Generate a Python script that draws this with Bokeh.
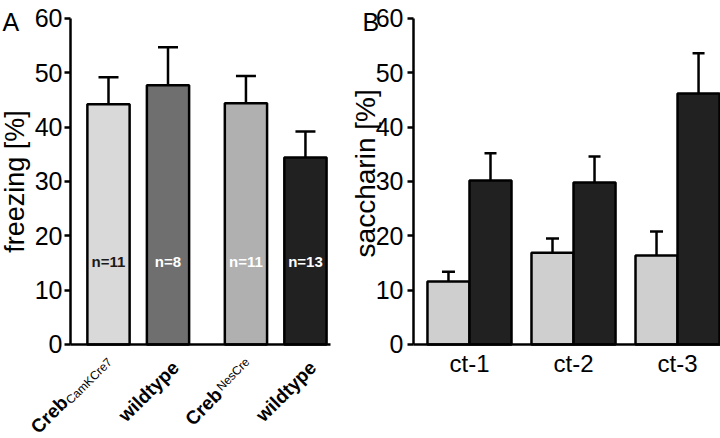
import math
from bokeh.plotting import figure
from bokeh.models import (Range1d, FixedTicker, ColumnDataSource, Whisker, TeeHead, Label)
from bokeh.core.properties import value
from bokeh.layouts import row
from bokeh.embed import file_html
from bokeh.resources import INLINE

# ---------------- data ----------------
# Panel A
a_names = ["Creb", "wildtype", "Creb", "wildtype"]
a_supers = ["CamKCre7", "", "NesCre", ""]
a_freezing = [44.2, 47.7, 44.4, 34.4]
a_sem = [5.0, 7.0, 5.0, 4.8]
a_n = ["n=11", "n=8", "n=11", "n=13"]
# Panel B
b_categories = ["ct-1", "ct-2", "ct-3"]
b_light = [11.6, 16.9, 16.4]
b_light_sem = [1.8, 2.6, 4.4]
b_dark = [30.2, 29.8, 46.2]
b_dark_sem = [5.0, 4.8, 7.4]
y_ticks = [0, 10, 20, 30, 40, 50, 60]

# ---------------- style ----------------
FONT = "Liberation Sans"
a_colors = ["#d9d9d9", "#6f6f6f", "#b0b0b0", "#212121"]
a_n_colors = ["#1a1a1a", "white", "white", "white"]
LIGHT = "#cfcfcf"
DARK = "#212121"
LW = 2.5
GROUP_GAP = 0.31
N_LABEL_Y = 15.3
H = 438
PX_X_A = 59.5      # px per x unit (panel A)
PX_Y = 5.4333      # px per y unit
LETTER_Y = 59.3    # baseline of panel letters


def make_fig(width, xr, yr):
    p = figure(width=width, height=H, output_backend="svg", toolbar_location=None,
               x_range=xr, y_range=yr, min_border=0,
               min_border_left=0, min_border_right=0, min_border_top=0, min_border_bottom=0)
    p.title.visible = False
    p.outline_line_color = None
    p.xgrid.visible = False
    p.ygrid.visible = False
    return p


def style_axes(p, ax_x, x_end, label_standoff):
    p.yaxis.fixed_location = ax_x
    p.yaxis.bounds = (0, 60)
    p.xaxis.fixed_location = 0
    p.xaxis.bounds = (ax_x, x_end)
    p.yaxis.ticker = FixedTicker(ticks=y_ticks)
    p.yaxis.major_tick_out = 6
    p.yaxis.major_tick_in = 0
    p.yaxis.major_label_standoff = label_standoff
    p.yaxis.major_label_text_font = FONT
    p.yaxis.major_label_text_font_size = "25px"
    p.yaxis.major_label_text_color = "black"
    for ax in (p.xaxis, p.yaxis):
        ax.axis_line_width = LW
        ax.axis_line_color = "black"
        ax.major_tick_line_width = LW
        ax.major_tick_line_color = "black"
        ax.minor_tick_line_color = None


# ---------------- Panel A ----------------
pa = make_fig(340, Range1d(-1.815, 3.899), Range1d(-17.3, 63.31))
style_axes(pa, -0.639, 3.73, 2)
pa.xaxis.ticker = FixedTicker(ticks=[])
pa.xaxis.major_tick_out = 0
pa.xaxis.major_tick_in = 0

xa = [i + GROUP_GAP * (i // 2) for i in range(len(a_freezing))]
src_a = ColumnDataSource(dict(x=xa, top=a_freezing,
                              upper=[v + e for v, e in zip(a_freezing, a_sem)],
                              color=a_colors, n=a_n, ncol=a_n_colors,
                              ny=[N_LABEL_Y] * len(xa)))
pa.vbar(x="x", top="top", bottom=0, width=0.71, source=src_a,
        fill_color="color", line_color="black", line_width=LW)
pa.add_layout(Whisker(source=src_a, base="x", upper="upper", lower="top", dimension="height",
                      line_width=LW, line_color="black", lower_head=None,
                      upper_head=TeeHead(size=20, line_width=LW, line_color="black")))
pa.text(x="x", y="ny", text="n", source=src_a, text_color="ncol",
        text_align="center", text_baseline="middle",
        text_font=value(FONT), text_font_size="15px", text_font_style="bold")

# rotated category labels: anchor = baseline end, offsets in px (right, down) from bar centre
name_off = [(-44.0, 55.0), (7.5, 20.0), (-27.0, 47.0), (7.5, 20.0)]
sup_off = (1.5, 15.5)
ang = math.pi / 4
name_src = ColumnDataSource(dict(
    x=[xa[i] + name_off[i][0] / PX_X_A for i in range(len(xa))],
    y=[-name_off[i][1] / PX_Y for i in range(len(xa))],
    t=a_names))
pa.text(x="x", y="y", text="t", source=name_src, angle=ang,
        text_align="right", text_baseline="alphabetic",
        text_font=value(FONT), text_font_size="19px", text_font_style="bold",
        text_color="black")
sup_idx = [i for i, s in enumerate(a_supers) if s]
sup_src = ColumnDataSource(dict(
    x=[xa[i] + sup_off[0] / PX_X_A for i in sup_idx],
    y=[-sup_off[1] / PX_Y for i in sup_idx],
    t=[a_supers[i] for i in sup_idx]))
pa.text(x="x", y="y", text="t", source=sup_src, angle=ang,
        text_align="right", text_baseline="alphabetic",
        text_font=value(FONT), text_font_size="12px", text_color="black")

pa.add_layout(Label(x=14, x_units="screen", y=30, text="freezing [%]", angle=math.pi / 2,
                    text_align="center", text_baseline="middle",
                    text_font=FONT, text_font_size="27px", text_color="black"))
pa.add_layout(Label(x=2, x_units="screen", y=LETTER_Y, text="A",
                    text_align="left", text_baseline="alphabetic",
                    text_font=FONT, text_font_size="25px", text_color="black"))

# ---------------- Panel B ----------------
pb = make_fig(380, Range1d(-1.240, 2.413), Range1d(-17.3, 63.31))
style_axes(pb, -0.538, 2.413, 4)
xb = list(range(len(b_categories)))
pb.xaxis.ticker = FixedTicker(ticks=xb)
pb.xaxis.major_label_overrides = {i: c for i, c in enumerate(b_categories)}
pb.xaxis.major_tick_out = 0
pb.xaxis.major_tick_in = 0
pb.xaxis.major_label_standoff = 6
pb.xaxis.major_label_text_font = FONT
pb.xaxis.major_label_text_font_size = "24px"
pb.xaxis.major_label_text_color = "black"

BW = 0.404
for vals, sems, col, shift, head in ((b_light, b_light_sem, LIGHT, -BW / 2, 13),
                                      (b_dark, b_dark_sem, DARK, BW / 2, 12)):
    src = ColumnDataSource(dict(x=[x + shift for x in xb], top=vals,
                                upper=[v + e for v, e in zip(vals, sems)]))
    pb.vbar(x="x", top="top", bottom=0, width=BW, source=src,
            fill_color=col, line_color="black", line_width=LW)
    pb.add_layout(Whisker(source=src, base="x", upper="upper", lower="top", dimension="height",
                          line_width=LW, line_color="black", lower_head=None,
                          upper_head=TeeHead(size=head, line_width=LW, line_color="black")))

pb.add_layout(Label(x=25, x_units="screen", y=31.5, text="saccharin [%]", angle=math.pi / 2,
                    text_align="center", text_baseline="middle",
                    text_font=FONT, text_font_size="28px", text_color="black"))
pb.add_layout(Label(x=22, x_units="screen", y=LETTER_Y, text="B",
                    text_align="left", text_baseline="alphabetic",
                    text_font=FONT, text_font_size="25px", text_color="black"))

layout = row(pa, pb)
open("out.html", "w").write(file_html(layout, INLINE))
